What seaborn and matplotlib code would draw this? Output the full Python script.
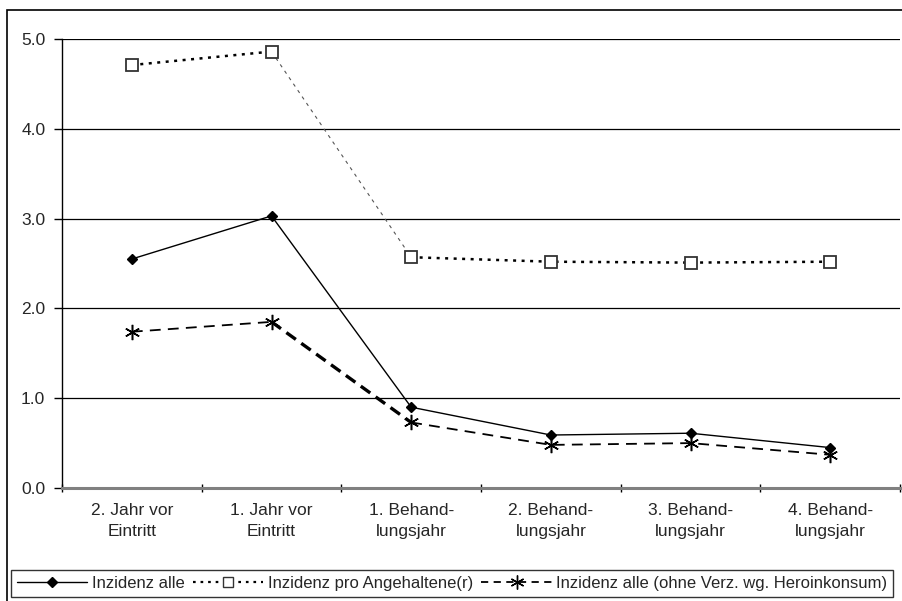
import numpy as np
import pandas as pd
import matplotlib
matplotlib.use("Agg")
import matplotlib.pyplot as plt
from matplotlib.lines import Line2D
from matplotlib.patches import Rectangle
import seaborn as sns

categories = ["2. Jahr vor\nEintritt", "1. Jahr vor\nEintritt", "1. Behand-\nlungsjahr",
              "2. Behand-\nlungsjahr", "3. Behand-\nlungsjahr", "4. Behand-\nlungsjahr"]
inz_alle = [2.55, 3.03, 0.90, 0.59, 0.61, 0.45]
inz_angeh = [4.71, 4.86, 2.57, 2.52, 2.51, 2.52]
inz_ohne = [1.74, 1.85, 0.73, 0.48, 0.50, 0.37]
labels = ["Inzidenz alle", "Inzidenz pro Angehaltene(r)",
          "Inzidenz alle (ohne Verz. wg. Heroinkonsum)"]
yticks = [0.0, 1.0, 2.0, 3.0, 4.0, 5.0]

sns.set_theme(style="white")
plt.rcParams["font.family"] = ["Liberation Sans", "DejaVu Sans"]

fig = plt.figure(figsize=(9.03, 6.01), dpi=100)
ax = fig.add_axes([62 / 903, 1 - 488 / 601, 838 / 903, 449 / 601])

x = np.arange(len(categories))

# per-series style: (normal segment kw, middle segment kw, marker kw)
styles = [
    (dict(color="black", lw=1.0, ls="-"),
     dict(color="black", lw=1.0, ls="-"),
     dict(marker="D", ms=5.5, mfc="black", mec="black")),
    (dict(color="black", lw=1.8, ls=(0, (1.2, 2.2))),
     dict(color="#555555", lw=0.8, ls=(0, (3, 4))),
     dict(marker="s", ms=8, mfc="white", mec="#333333", mew=1.3)),
    (dict(color="black", lw=1.3, ls=(0, (6, 4))),
     dict(color="black", lw=2.4, ls=(0, (3.5, 2))),
     dict(marker=(6, 2, 0), ms=11, mec="black", mew=1.1)),
]

for vals, (norm, mid, mk) in zip([inz_alle, inz_angeh, inz_ohne], styles):
    df = pd.DataFrame({"x": x, "y": vals})
    sns.lineplot(data=df.iloc[0:2], x="x", y="y", ax=ax, **norm)
    sns.lineplot(data=df.iloc[1:3], x="x", y="y", ax=ax, **mid)
    sns.lineplot(data=df.iloc[2:], x="x", y="y", ax=ax, **norm)
    ax.plot(df["x"], df["y"], ls="none", zorder=5, **mk)

ax.set_xlim(-0.5, len(categories) - 0.5)
ax.set_ylim(0, 5.0)
ax.set_yticks(yticks)
ax.set_yticklabels([f"{v:.1f}" for v in yticks], fontsize=12.5)
ax.set_xticks(x)
ax.set_xticklabels(categories, fontsize=12.5, linespacing=1.45)
ax.set_xticks(np.arange(-0.5, len(categories)), minor=True)
ax.tick_params(axis="x", which="major", length=0, pad=11)
ax.tick_params(axis="x", which="minor", length=6, width=1, color="black",
               direction="inout", bottom=True)
ax.tick_params(axis="y", length=6, width=1, color="black", left=True, pad=6)
ax.set_xlabel("")
ax.set_ylabel("")

for v in yticks[1:]:
    ax.axhline(v, color="black", lw=0.9, zorder=1)

for s in ["top", "right"]:
    ax.spines[s].set_visible(False)
ax.spines["left"].set_color("black")
ax.spines["left"].set_linewidth(1.0)
ax.spines["bottom"].set_color("#808080")
ax.spines["bottom"].set_linewidth(2.2)

handles = [
    Line2D([], [], color="black", lw=1.0, ls="-", marker="D", ms=5.5, mfc="black"),
    Line2D([], [], color="black", lw=1.6, ls=(0, (1.2, 2.2)), marker="s", ms=7,
           mfc="white", mec="#333333"),
    Line2D([], [], color="black", lw=1.3, ls=(0, (4, 3)), marker=(6, 2, 0), ms=10,
           mec="black"),
]
leg = fig.legend(handles, labels, loc="upper left", ncol=3,
                 bbox_to_anchor=(11 / 903, 1 - 570 / 601), fontsize=12,
                 frameon=True, fancybox=False, edgecolor="black",
                 handlelength=4.2, handletextpad=0.3, columnspacing=0.5,
                 borderpad=0.35, borderaxespad=0)
leg.get_frame().set_linewidth(1.0)

fig.patches.append(Rectangle((7 / 903, -0.05), 1.2, 1 - 10 / 601 + 0.05,
                             transform=fig.transFigure, fill=False,
                             edgecolor="black", lw=1.2))

fig.savefig("out.png", dpi=100, facecolor="white")
